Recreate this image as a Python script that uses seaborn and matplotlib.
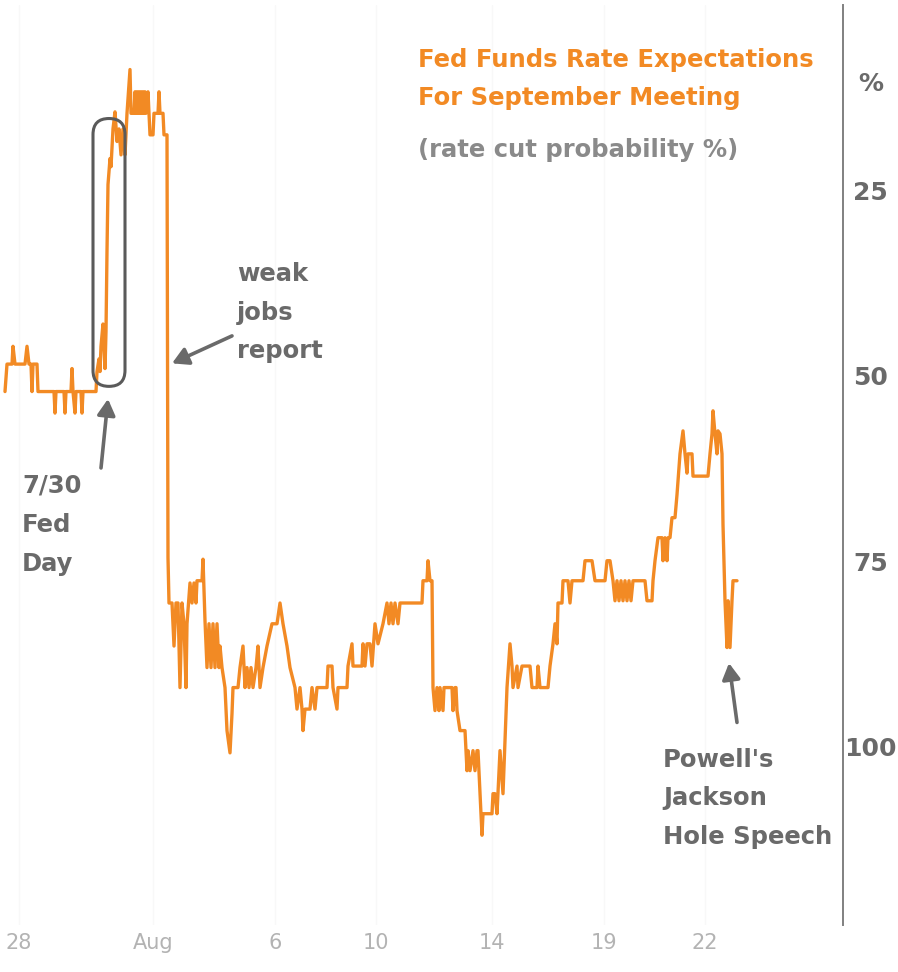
import numpy as np
import pandas as pd
import matplotlib
matplotlib.use("Agg")
import matplotlib.pyplot as plt
import seaborn as sns
from matplotlib.patches import FancyBboxPatch

# ---- data (x = intraday session time index, y = rate cut probability %) ----
t = [5, 7, 12, 13, 15, 25, 27, 29, 31, 32, 33, 37, 38, 54, 55, 56, 64, 65, 66, 71, 72, 73, 75, 76, 81, 82, 83, 96,
     97, 99, 100, 101, 103, 104, 105, 106, 107, 108, 110, 111, 113, 115, 117, 119, 121, 123, 125, 127, 130, 131,
     134, 135, 136, 137, 138, 139, 140, 141, 142, 143, 144, 145, 146, 148, 149, 150, 153, 154, 158, 159, 160, 163,
     164, 167,
     168, 169, 172, 174, 176, 178, 180, 182, 184, 186, 187, 190, 192, 194, 196, 197, 202, 203, 205, 207, 209, 211,
     213, 215, 217, 219, 220, 222, 225, 227, 230, 232, 233, 238, 240, 243, 245, 247, 249, 251, 253, 256, 258, 260,
     263, 267, 272, 277, 280, 283, 287, 290, 295, 297, 300, 302, 303, 305, 310, 312, 315, 317, 327, 328, 332, 333,
     337, 338, 347, 348, 352, 353, 362, 363, 365, 367, 370, 372, 375, 378, 383, 387, 389, 391, 393, 395, 398, 400,
     422, 423, 427, 428, 430, 432,
     433, 435, 437, 439, 440, 443, 444, 452, 453, 455, 456, 457, 460, 465, 467, 468, 470, 473, 475, 477, 478, 480,
     482, 483, 492, 493, 495, 497, 500, 503, 507, 510, 512, 513, 517, 518, 522, 530, 532, 537, 538, 540, 548, 550,
     553, 555, 557, 558, 562, 563, 568, 570, 572, 583, 585, 592, 595, 605, 607, 610, 613, 615, 617, 619, 621, 623,
     625, 627, 629, 631, 633, 645, 647, 652, 653, 655, 658, 662, 663, 665, 667, 668, 670, 672, 675, 677, 680, 683,
     685, 687, 688, 692, 693, 708, 710, 712, 713, 715, 717, 718, 720, 722, 723, 725, 727, 728, 730, 732, 733, 737]

prob = [52.1, 48.4, 48.4, 46.0, 48.4, 48.4, 46.0, 48.4, 48.4, 52.1, 48.4, 48.4, 52.1, 52.1, 55.0, 52.1, 52.1, 55.0,
        52.1, 52.1, 49.0, 52.1, 55.0, 52.1, 52.1, 55.0, 52.1, 52.1,
        49.4, 47.7, 49.4, 46.0, 43.0, 46.0, 49.0, 44.0, 33.2, 24.2, 20.7, 21.8, 16.7, 14.4, 18.4, 16.7, 20.2, 16.7,
        20.2, 14.6, 8.7, 14.6, 14.6, 11.7, 14.6, 11.7, 14.6, 11.7, 14.6, 11.7, 14.6, 11.7, 14.6, 11.7, 14.6, 11.7,
        14.6, 17.5, 17.5, 14.6, 14.6, 11.7, 14.6, 14.6, 17.5, 17.5,
        74.5, 80.6, 80.6, 86.4, 80.6, 80.6, 92.0, 80.6, 83.4, 92.0, 83.4, 77.9, 80.6, 77.9, 80.6, 77.6, 77.6, 74.7,
        83.0, 89.3, 83.4, 89.3, 83.4, 89.3, 83.4, 89.3, 86.4, 89.3, 92.0, 97.8, 100.8, 95.5, 92.0, 92.0, 89.3, 86.4,
        92.0, 89.3, 92.0, 89.3, 92.0, 89.3, 86.4, 92.0, 89.3, 86.4, 83.4, 83.4, 80.6, 83.4, 86.4, 89.3, 92.0, 94.9,
        92.0, 94.9, 97.8, 94.9, 94.9, 92.0, 94.9, 92.0, 92.0, 89.1, 89.1, 92.0, 94.9, 92.0, 92.0, 89.1, 86.1, 89.1,
        89.1, 86.1, 89.1, 86.1, 86.1, 89.1, 83.4, 86.1, 83.4, 80.6, 83.4, 80.6, 83.4, 80.6, 83.4, 80.6, 80.6, 77.6,
        77.6, 74.9, 77.6, 77.6,
        92.0, 95.1, 92.0, 95.1, 92.0, 95.1, 92.0, 92.0, 95.1, 92.0, 92.0, 95.1, 97.8, 97.8, 103.2, 100.5, 103.2,
        100.5, 103.2, 100.5, 100.5, 106.3, 111.9, 109.0, 109.0, 106.3, 106.3, 109.0, 100.5, 106.3, 92.0, 86.1, 89.1,
        92.0, 89.1, 92.0, 89.1, 89.1, 92.0, 92.0, 89.1, 92.0, 92.0, 89.1, 86.1, 83.4, 86.1, 80.6, 80.6, 77.6, 77.6,
        80.6, 77.6, 77.6, 74.9, 74.9, 77.6, 77.6, 74.9, 74.9, 77.6, 80.3, 77.6, 80.3, 77.6, 80.3, 77.6, 80.3, 77.6,
        80.3, 77.6, 77.6, 80.3, 80.3, 77.6, 74.9, 71.8, 71.8, 74.9, 71.8, 74.9, 71.8, 71.8, 69.1, 69.1, 66.0, 60.5,
        57.4, 60.5, 63.1, 60.5, 60.5, 63.5, 63.5, 60.5, 57.8, 54.7, 57.8, 60.5, 57.4, 57.8, 60.5, 70.0, 80.3, 86.6,
        80.3, 86.6, 80.3, 77.6, 77.6]

tick_pos = [19, 153, 275, 376, 492, 604, 705]
tick_labels = ["28", "Aug", "6", "10", "14", "19", "22"]
y_ticks = [25, 50, 75, 100]

ORANGE = "#F28A24"
GREY = "#6a6a6a"

sns.set_theme(style="white")
plt.rcParams["font.family"] = ["DejaVu Sans"]

W, H = 898, 972
fig = plt.figure(figsize=(W / 100, H / 100), dpi=100)
ax = fig.add_axes([0, 1 - 925 / H, 843 / W, 920 / H])

df = pd.DataFrame({"t": t, "prob": prob})
sns.lineplot(data=df, x="t", y="prob", ax=ax, color=ORANGE, lw=2.4, sort=False, estimator=None)

ax.set_xlim(0, 843)
ax.set_ylim(124, 0)

# faint grid
for xp in tick_pos:
    ax.axvline(xp, color="#f8f8f8", lw=1, zorder=0)

ax.set_xlabel("")
ax.set_ylabel("")
ax.set_xticks(tick_pos)
ax.set_xticklabels(tick_labels, color="#b3b3b3", fontsize=15,
                   family=["Liberation Sans Narrow", "DejaVu Sans"])
ax.tick_params(axis="x", length=0, pad=6)

ax.yaxis.tick_right()
ax.set_yticks(y_ticks)
ax.set_yticklabels([str(v) for v in y_ticks], color=GREY, fontsize=18, fontweight="bold")
ax.tick_params(axis="y", length=0, pad=20)
for lab in ax.get_yticklabels():
    lab.set_horizontalalignment("center")

for s in ["top", "left", "bottom"]:
    ax.spines[s].set_visible(False)
ax.spines["right"].set_color("#808080")
ax.spines["right"].set_linewidth(1.4)

# "%" label above ticks
ax.text(871 / 843, 10.6, "%", transform=ax.get_yaxis_transform(), ha="center", va="center",
        color=GREY, fontsize=18, fontweight="bold", clip_on=False)

# title
fig.text(418 / W, 1 - 60 / H, "Fed Funds Rate Expectations", color=ORANGE, fontsize=17.5,
         fontweight="bold", ha="left", va="center")
fig.text(418 / W, 1 - 98 / H, "For September Meeting", color=ORANGE, fontsize=17.5,
         fontweight="bold", ha="left", va="center")
fig.text(418 / W, 1 - 150 / H, "(rate cut probability %)", color="#8a8a8a", fontsize=17.5,
         fontweight="bold", ha="left", va="center")

# stadium around Fed day move
box = FancyBboxPatch((93, 15.3), 32, 36.1, boxstyle="round,pad=0,rounding_size=16",
                     mutation_aspect=1 / 7.43, fill=False, ec="#5a5a5a", lw=2.2, zorder=3)
ax.add_patch(box)

arrow = dict(arrowstyle="-|>,head_length=0.8,head_width=0.45", color=GREY, lw=2.6,
             shrinkA=0, shrinkB=0)
txt = dict(color=GREY, fontsize=17.5, fontweight="bold", ha="left", va="top", linespacing=1.78)

ax.annotate("", xy=(172, 48.3), xytext=(232, 44.6), arrowprops=arrow)
ax.text(237, 34.6, "weak\njobs\nreport", **txt)

ax.annotate("", xy=(108, 53.1), xytext=(101, 62.4), arrowprops=arrow)
ax.text(22, 63.2, "7/30\nFed\nDay", **txt)

ax.annotate("", xy=(729, 88.7), xytext=(737, 96.7), arrowprops=arrow)
ax.text(663, 100.1, "Powell's\nJackson\nHole Speech", **txt)

fig.savefig("out.png", dpi=100)
